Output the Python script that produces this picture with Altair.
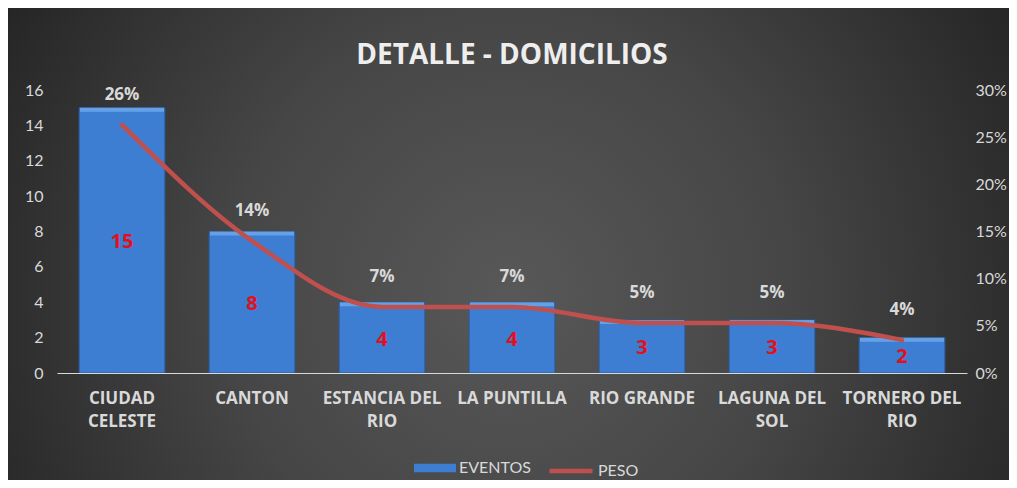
import altair as alt
import pandas as pd

categories = ["CIUDAD CELESTE", "CANTON", "ESTANCIA DEL RIO", "LA PUNTILLA",
              "RIO GRANDE", "LAGUNA DEL SOL", "TORNERO DEL RIO"]
eventos = [15, 8, 4, 4, 3, 3, 2]
peso = [0.263, 0.140, 0.070, 0.070, 0.053, 0.053, 0.035]
left_ticks = [0, 2, 4, 6, 8, 10, 12, 14, 16]
right_ticks = [0, 0.05, 0.10, 0.15, 0.20, 0.25, 0.30]

df = pd.DataFrame({"cat": categories, "EVENTOS": eventos, "PESO": peso})
df["mid"] = df["EVENTOS"] / 2

W, H = 910, 283
PL, PT, PR, PB = 49, 82, 42, 107
FONT = "Lato"
BFONT = "Open Sans"
LBL = "#d9d9d9"

bg = alt.Chart(pd.DataFrame({"k": [0]})).mark_rect(
    fill={"gradient": "radial", "x1": 0.5, "y1": 0.55, "r1": 0,
          "x2": 0.5, "y2": 0.55, "r2": 0.62,
          "stops": [{"offset": 0, "color": "#585858"},
                    {"offset": 0.45, "color": "#464646"},
                    {"offset": 1, "color": "#212121"}]}
).encode(x=alt.value(-PL), x2=alt.value(W + PR), y=alt.value(-PT), y2=alt.value(H + PB))

base = alt.Chart(df)

xaxis = alt.Axis(title=None, labelAngle=0, ticks=False, domainColor=LBL,
                 domainWidth=1.2, labelColor=LBL, labelFont=BFONT,
                 labelFontSize=17, labelFontWeight="bold", labelPadding=17,
                 labelLineHeight=23, labelOverlap=False, labelLimit=300,
                 zindex=1,
                 labelExpr="split(replace(replace(datum.label, ' DEL ', ' DEL|'), 'CIUDAD ', 'CIUDAD|'), '|')")
xscale = alt.Scale(paddingInner=0.34, paddingOuter=0.17)


def X():
    return alt.X("cat:N", sort=categories, scale=xscale, axis=xaxis)


laxis = alt.Axis(orient="left", title=None, values=left_ticks, grid=False,
                 domain=False, ticks=False, labelColor=LBL, labelFont=FONT,
                 labelFontSize=16, labelPadding=14, labelOverlap=False, zindex=1)
lscale = alt.Scale(domain=[0, 16], nice=False)

raxis = alt.Axis(orient="right", title=None, values=right_ticks, format="%",
                 grid=False, domain=False, ticks=False, labelColor=LBL,
                 labelFont=FONT, labelFontSize=16, labelPadding=8,
                 labelOverlap=False, zindex=1)
rscale = alt.Scale(domain=[0, 0.3], nice=False)

bars = base.transform_calculate(serie="'EVENTOS'").mark_bar(
    stroke="#2a5a9c", strokeWidth=1
).encode(
    x=X(), y=alt.Y("EVENTOS:Q", scale=lscale, axis=laxis),
    fill=alt.Fill("serie:N", scale=alt.Scale(domain=["EVENTOS"], range=["#3d7ed2"]),
                  legend=alt.Legend(title=None, orient="none", legendX=357, legendY=357,
                                    symbolType="M-1,-0.2L1,-0.2L1,0.2L-1,0.2Z",
                                    symbolSize=1764, symbolStrokeWidth=0,
                                    labelColor=LBL, labelFont=FONT, labelFontSize=16,
                                    labelOffset=3))
)

bevel = base.mark_tick(color="#78b0f0", thickness=4, size=84, yOffset=2).encode(
    x=X(), y=alt.Y("EVENTOS:Q", scale=lscale, axis=laxis))

count_txt = base.mark_text(
    color="#e3101b", font=BFONT, fontSize=20, fontWeight="bold", baseline="middle", dy=2
).encode(x=X(), y=alt.Y("mid:Q", scale=lscale, axis=laxis), text=alt.Text("EVENTOS:Q"))

line = base.transform_calculate(serie2="'PESO'").mark_line(
    interpolate="monotone", strokeWidth=4.5, strokeCap="round"
).encode(
    x=X(), y=alt.Y("PESO:Q", scale=rscale, axis=raxis),
    stroke=alt.Stroke("serie2:N", scale=alt.Scale(domain=["PESO"], range=["#c0504d"]),
                      legend=alt.Legend(title=None, orient="none", legendX=490, legendY=357,
                                        symbolType="stroke", symbolSize=1849,
                                        symbolStrokeWidth=4.5,
                                        labelColor=LBL, labelFont=FONT, labelFontSize=16,
                                        labelOffset=3))
)

pct_txt = base.mark_text(
    color=LBL, font=BFONT, fontSize=17, fontWeight="bold", dy=-30, baseline="middle"
).encode(x=X(), y=alt.Y("PESO:Q", scale=rscale, axis=raxis),
         text=alt.Text("PESO:Q", format=".0%"))

left = alt.layer(bars, bevel, count_txt)
right = alt.layer(line, pct_txt)

chart = alt.layer(bg, left, right).resolve_scale(
    y="independent", fill="independent", stroke="independent"
).properties(
    width=W, height=H,
    autosize=alt.AutoSizeParams(type="none"),
    padding={"left": PL, "top": PT, "right": PR, "bottom": PB},
    background="#333333",
    title=alt.TitleParams("DETALLE - DOMICILIOS", anchor="middle", font=BFONT,
                          fontSize=28, fontWeight="bold", color="#eeeeee", offset=-62)
).configure_view(stroke=None)

chart.save("out.html", embed_options={"renderer": "svg", "actions": False})
